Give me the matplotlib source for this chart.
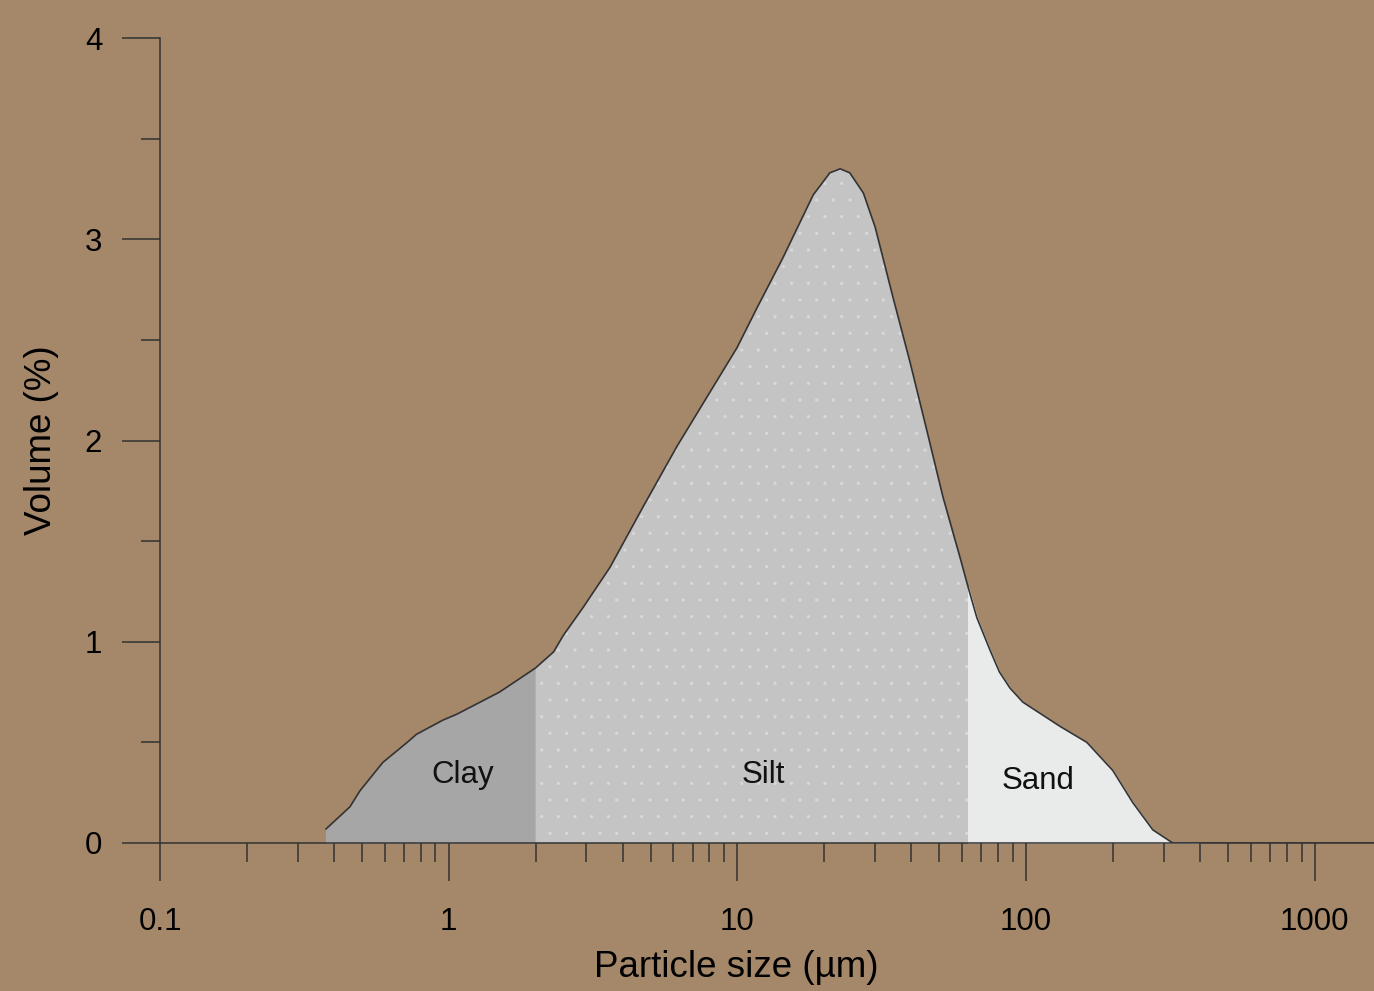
import numpy as np
import matplotlib
matplotlib.use("Agg")
import matplotlib.pyplot as plt
from matplotlib.ticker import FixedLocator, LogLocator, NullFormatter

# particle size distribution
size_um = [0.376, 0.455, 0.493, 0.591, 0.718, 0.773, 0.953, 1.067, 1.50, 2.00,
           2.31, 2.49, 2.92, 3.62, 4.71, 6.17, 8.03, 9.96, 11.7, 14.4,
           18.3, 20.9, 22.7, 24.5, 27.3, 30.0, 34.6, 39.6, 45.3, 51.5,
           59.0, 63.0, 67.5, 74.9, 80.8, 87.9, 97.4, 130.9, 162.3, 199.7,
           234.3, 274.8, 322.0, 400.0, 1000.0, 2000.0]
volume_pct = [0.07, 0.18, 0.26, 0.40, 0.50, 0.54, 0.61, 0.64, 0.75, 0.87,
              0.95, 1.03, 1.17, 1.37, 1.67, 1.97, 2.24, 2.46, 2.66, 2.91,
              3.22, 3.33, 3.35, 3.33, 3.23, 3.06, 2.71, 2.39, 2.05, 1.72,
              1.42, 1.27, 1.12, 0.96, 0.85, 0.77, 0.70, 0.58, 0.50, 0.36,
              0.20, 0.065, 0.0, 0.0, 0.0, 0.0]

classes = ["Clay", "Silt", "Sand"]
class_bounds = [(0.0, 2.0), (2.0, 63.0), (63.0, 400.0)]
class_label_pos = [(1.12, 0.30), (12.27, 0.30), (110.0, 0.27)]

x_ticks = [0.1, 1, 10, 100, 1000]
x_ticklabels = ["0.1", "1", "10", "100", "1000"]
y_ticks = [0, 1, 2, 3, 4]
y_minor = [0.5, 1.5, 2.5, 3.5]

bg = "#a5876a"
ink = "#333333"
fills = {"Clay": dict(color="#a6a6a6"),
         "Silt": dict(facecolor="#c4c4c4", edgecolor="#d8d8d8", hatch=".", linewidth=0),
         "Sand": dict(color="#e9eaea")}

plt.rcParams["font.family"] = ["Liberation Sans", "DejaVu Sans"]
plt.rcParams["hatch.linewidth"] = 0.0

fig = plt.figure(figsize=(13.74, 9.91), dpi=100, facecolor=bg)
ax = fig.add_axes([160 / 1374, 148 / 991, 1214 / 1374, 805 / 991])
ax.set_facecolor(bg)

x = np.array(size_um)
y = np.array(volume_pct)
for name, (lo, hi) in zip(classes, class_bounds):
    m = (x >= lo) & (x <= hi)
    ax.fill_between(x[m], 0, y[m], zorder=1, **fills[name])
ax.plot(x, y, color=ink, lw=1.2, zorder=3)

for name, (tx, ty) in zip(classes, class_label_pos):
    ax.text(tx, ty, name, ha="center", va="baseline", fontsize=22.5, color="#111111", zorder=4)

ax.set_xscale("log")
ax.set_xlim(0.1, 1603)
ax.set_ylim(0, 4)

ax.xaxis.set_major_locator(FixedLocator(x_ticks))
ax.set_xticklabels(x_ticklabels)
ax.xaxis.set_minor_locator(LogLocator(base=10, subs=np.arange(2, 10), numticks=20))
ax.xaxis.set_minor_formatter(NullFormatter())
ax.set_yticks(y_ticks)
ax.set_yticklabels([str(v) for v in y_ticks])
ax.yaxis.set_minor_locator(FixedLocator(y_minor))

for s in ["top", "right"]:
    ax.spines[s].set_visible(False)
for s in ["left", "bottom"]:
    ax.spines[s].set_color(ink)
    ax.spines[s].set_linewidth(1.1)
    ax.spines[s].set_zorder(2)

ax.tick_params(axis="x", which="major", direction="out", length=27, width=1.1,
               color=ink, pad=19, labelsize=22.5)
ax.tick_params(axis="x", which="minor", direction="out", length=13.5, width=1.1, color=ink)
ax.tick_params(axis="y", which="major", direction="out", length=27.5, width=1.1,
               color=ink, pad=14, labelsize=22.5)
ax.tick_params(axis="y", which="minor", direction="out", length=14, width=1.1, color=ink)

ax.set_xlabel("Particle size (µm)", fontsize=26.5)
ax.xaxis.set_label_coords(0.475, -0.133)
ax.set_ylabel("Volume (%)", fontsize=26.5)
ax.yaxis.set_label_coords(-0.083, 0.5)

fig.savefig("out.png", dpi=100, facecolor=bg)
